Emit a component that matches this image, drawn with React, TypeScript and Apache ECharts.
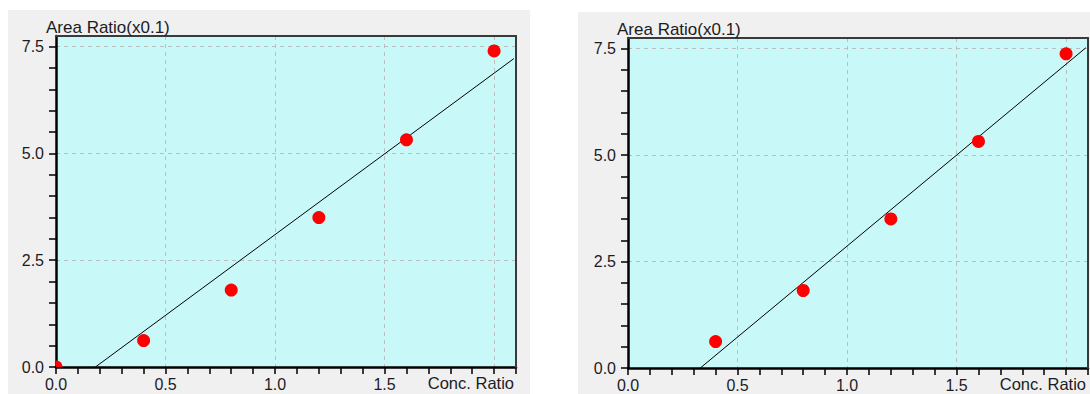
import React, { useEffect, useRef } from "react";
import * as echarts from "echarts";

// ---- data ----
const leftX = [0, 0.4, 0.8, 1.2, 1.6, 2.0];
const leftY = [0, 0.62, 1.8, 3.5, 5.32, 7.4];
const rightX = [0.4, 0.8, 1.2, 1.6, 2.0];
const rightY = [0.62, 1.82, 3.5, 5.32, 7.38];
const leftFit = [[0.18, 0], [2.09, 7.22]];
const rightFit = [[0.33, 0], [2.09, 7.52]];
const yMinorTicks = [0, 0.5, 1, 1.5, 2, 2.5, 3, 3.5, 4, 4.5, 5, 5.5, 6, 6.5, 7, 7.5];
const yTitle = "Area Ratio(x0.1)";
const xTitle = "Conc. Ratio";

const FONT = "Liberation Sans, Arial, sans-serif";
const LABEL_COLOR = "#1c1c24";
const X_MAX = 2.1;
const Y_MAX = 7.75;

function mainX(grid: number) {
  return {
    type: "value", gridIndex: grid, position: "bottom", min: 0, max: X_MAX, interval: 0.5,
    axisLine: { show: true, onZero: false, lineStyle: { color: "#000", width: 2.5 } },
    axisTick: { show: false },
    axisLabel: {
      margin: 9, fontSize: 16, fontFamily: FONT, color: LABEL_COLOR, showMaxLabel: false,
      formatter: (v: number) => (v >= 1.99 ? "" : v.toFixed(1)),
    },
    splitLine: { show: true, lineStyle: { color: "#bdbdbd", type: [4, 4], width: 1 } },
  };
}
function minorX(grid: number) {
  return {
    type: "value", gridIndex: grid, position: "bottom", min: 0, max: X_MAX, interval: 0.1,
    axisLine: { show: false },
    axisTick: { show: true, inside: false, length: 7, lineStyle: { color: "#000", width: 1.5 } },
    axisLabel: { show: false },
    splitLine: { show: false },
  };
}
function borderX(grid: number) {
  return {
    type: "value", gridIndex: grid, position: "top", min: 0, max: X_MAX, z: 5,
    axisLine: { show: true, onZero: false, lineStyle: { color: "#3a3a3a", width: 2 } },
    axisTick: { show: false }, axisLabel: { show: false }, splitLine: { show: false },
  };
}
function mainY(grid: number) {
  return {
    type: "value", gridIndex: grid, position: "left", min: 0, max: Y_MAX, interval: 2.5,
    axisLine: { show: true, onZero: false, lineStyle: { color: "#000", width: 2.5 } },
    axisTick: { show: false },
    axisLabel: {
      margin: 12, fontSize: 16, fontFamily: FONT, color: LABEL_COLOR, showMaxLabel: false,
      formatter: (v: number) => (Math.abs(v / 2.5 - Math.round(v / 2.5)) < 1e-6 ? v.toFixed(1) : ""),
    },
    splitLine: { show: true, lineStyle: { color: "#bdbdbd", type: [4, 4], width: 1 } },
  };
}
function minorY(grid: number) {
  return {
    type: "value", gridIndex: grid, position: "left", min: 0, max: Y_MAX, interval: 0.5,
    axisLine: { show: false },
    axisTick: { show: true, inside: false, length: 7, lineStyle: { color: "#000", width: 1.5 }, customValues: yMinorTicks },
    axisLabel: { show: false },
    splitLine: { show: false },
  };
}
function borderY(grid: number) {
  return {
    type: "value", gridIndex: grid, position: "right", min: 0, max: Y_MAX, z: 5,
    axisLine: { show: true, onZero: false, lineStyle: { color: "#3a3a3a", width: 2 } },
    axisTick: { show: false }, axisLabel: { show: false }, splitLine: { show: false },
  };
}

function points(xs: number[], ys: number[], xi: number, yi: number) {
  return {
    type: "custom", xAxisIndex: xi, yAxisIndex: yi, clip: true, z: 5,
    data: xs.map((x, i) => [x, ys[i]]),
    renderItem: (_p: any, api: any) => {
      const c = api.coord([api.value(0), api.value(1)]);
      return { type: "circle", shape: { cx: c[0], cy: c[1], r: 6.5 }, style: { fill: "#ff0000" } };
    },
  };
}
function fit(d: number[][], xi: number, yi: number) {
  return {
    type: "line", xAxisIndex: xi, yAxisIndex: yi, data: d, symbol: "none", z: 4,
    lineStyle: { color: "#000", width: 1 }, silent: true,
  };
}

export default function App() {
  const ref = useRef<HTMLDivElement>(null);
  useEffect(() => {
    if (!ref.current) return;
    const chart = echarts.init(ref.current, null, { renderer: "svg" });
    const gridCommon = {
      show: true, backgroundColor: "#c8f8f8", borderColor: "#3a3a3a", borderWidth: 0,
      containLabel: false,
    };
    chart.setOption({
      animation: false,
      textStyle: { fontFamily: FONT },
      grid: [
        { ...gridCommon, left: 56, top: 36, width: 460, height: 331 },
        { ...gridCommon, left: 628, top: 38, width: 460, height: 330 },
      ],
      xAxis: [mainX(0), minorX(0), mainX(1), minorX(1), borderX(0), borderX(1)],
      yAxis: [mainY(0), minorY(0), mainY(1), minorY(1), borderY(0), borderY(1)],
      series: [
        fit(leftFit, 0, 0),
        points(leftX, leftY, 0, 0),
        fit(rightFit, 2, 2),
        points(rightX, rightY, 2, 2),
      ],
      graphic: [
        { type: "rect", z: -100, shape: { x: 8, y: 10, width: 522, height: 384 }, style: { fill: "#f0f0f0" } },
        { type: "rect", z: -100, shape: { x: 578, y: 12, width: 512, height: 382 }, style: { fill: "#f0f0f0" } },
        { type: "text", z: 100, x: 46, y: 27, style: { text: yTitle, fontSize: 17, fontFamily: FONT, fill: LABEL_COLOR, verticalAlign: "middle", align: "left" } },
        { type: "text", z: 100, x: 617, y: 29, style: { text: yTitle, fontSize: 17, fontFamily: FONT, fill: LABEL_COLOR, verticalAlign: "middle", align: "left" } },
        { type: "text", z: 100, x: 514, y: 383, style: { text: xTitle, fontSize: 16.5, fontFamily: FONT, fill: LABEL_COLOR, verticalAlign: "middle", align: "right" } },
        { type: "text", z: 100, x: 1086, y: 384, style: { text: xTitle, fontSize: 16.5, fontFamily: FONT, fill: LABEL_COLOR, verticalAlign: "middle", align: "right" } },
      ],
    });
    return () => chart.dispose();
  }, []);
  return (
    <div
      ref={ref}
      style={{ position: "fixed", left: 0, top: 0, width: 1090, height: 394, background: "#fff" }}
    />
  );
}
